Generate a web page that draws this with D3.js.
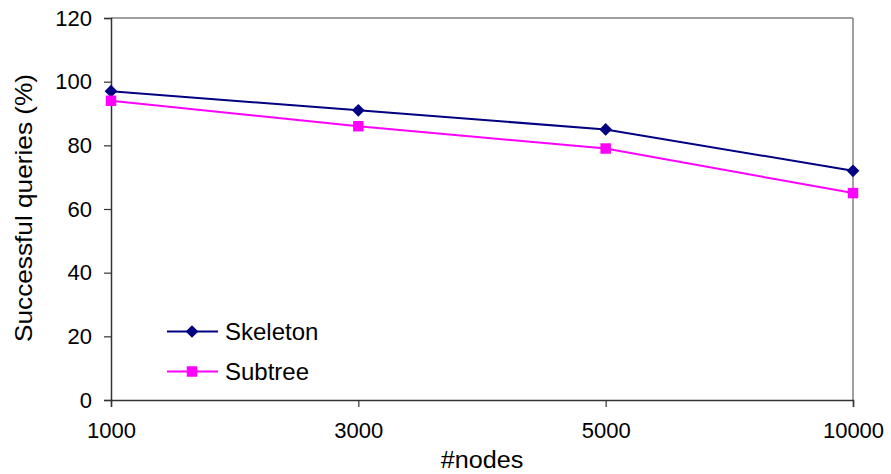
<!DOCTYPE html>
<html>
<head>
<meta charset="utf-8">
<script src="https://cdn.jsdelivr.net/npm/d3@7/dist/d3.min.js"></script>
<style>
  html, body { margin: 0; padding: 0; background: #fff; }
  text { font-family: Arial, "Liberation Sans", sans-serif; fill: #000; }
</style>
</head>
<body>
<svg id="chart" width="891" height="474"></svg>
<script>
const categories = ["1000", "3000", "5000", "10000"];
const skeleton = [97, 91, 85, 72];
const subtree = [94, 86, 79, 65];
const yTicks = [0, 20, 40, 60, 80, 100, 120];
const seriesNames = ["Skeleton", "Subtree"];
const colors = ["#000080", "#FF00FF"];
const xTitle = "#nodes";
const yTitle = "Successful queries (%)";

(function () {
const svg = d3.select("#chart");
const pL = 111, pR = 853, pT = 18, pB = 400;
const fs = 22;

const x = d3.scalePoint().domain(categories).range([pL, pR]);
const y = d3.scaleLinear().domain([0, 120]).range([pB, pT]);

// frame: top and right grey
svg.append("line").attr("x1", pL).attr("x2", pR).attr("y1", pT).attr("y2", pT)
  .attr("stroke", "#808080").attr("stroke-width", 1.5);
svg.append("line").attr("x1", pR).attr("x2", pR).attr("y1", pT).attr("y2", pB)
  .attr("stroke", "#808080").attr("stroke-width", 1.5);

// y axis
const yAxis = d3.axisLeft(y).tickValues(yTicks).tickSize(7).tickPadding(12).tickFormat(d3.format("d"));
const gy = svg.append("g").attr("transform", `translate(${pL},0)`).call(yAxis);
gy.select(".domain").attr("stroke", "#333").attr("stroke-width", 1.5);
gy.selectAll(".tick line").attr("stroke", "#333").attr("stroke-width", 1.2);
gy.selectAll(".tick text").attr("font-size", fs).attr("font-family", "Arial, 'Liberation Sans', sans-serif").attr("fill", "#000");

// x axis
const xAxis = d3.axisBottom(x).tickSize(7).tickPadding(15);
const gx = svg.append("g").attr("transform", `translate(0,${pB})`).call(xAxis);
gx.select(".domain").attr("stroke", "#333").attr("stroke-width", 1.5);
gx.selectAll(".tick line").attr("stroke", "#333").attr("stroke-width", 1.2);
gx.selectAll(".tick text").attr("font-size", fs).attr("font-family", "Arial, 'Liberation Sans', sans-serif").attr("fill", "#000");

// titles
svg.append("text").attr("transform", `translate(${(pL + pR) / 2},468) scale(1.05,1)`).attr("text-anchor", "middle")
  .attr("font-size", 24).text(xTitle);
svg.append("text").attr("transform", `translate(32,208) rotate(-90) scale(1.14,1)`).attr("text-anchor", "middle")
  .attr("font-size", 23).text(yTitle);

// series
const diamondPath = d3.symbol().type(d3.symbolSquare).size(81);
const square = d3.symbol().type(d3.symbolSquare).size(110);
const markers = [diamondPath, square];
const rot = [45, 0];
const series = [skeleton, subtree];
const line = d3.line().x((d, i) => x(categories[i])).y(d => y(d));

series.forEach((vals, si) => {
  svg.append("path").datum(vals).attr("d", line).attr("fill", "none")
    .attr("stroke", colors[si]).attr("stroke-width", 2);
  svg.selectAll(null).data(vals).enter().append("path")
    .attr("d", markers[si])
    .attr("transform", (d, i) => `translate(${x(categories[i])},${y(d)}) rotate(${rot[si]})`)
    .attr("fill", colors[si]);
});

// legend
const legendY = [331.5, 371.5];
seriesNames.forEach((name, si) => {
  const g = svg.append("g").attr("transform", `translate(0,${legendY[si]})`);
  g.append("line").attr("x1", 167).attr("x2", 218).attr("y1", 0).attr("y2", 0)
    .attr("stroke", colors[si]).attr("stroke-width", 2);
  g.append("path").attr("d", markers[si]).attr("transform", `translate(192,0) rotate(${rot[si]})`).attr("fill", colors[si]);
  g.append("text").attr("x", 225).attr("y", 0).attr("dy", "0.35em").attr("font-size", 24).text(name);
});
})();
</script>
</body>
</html>
